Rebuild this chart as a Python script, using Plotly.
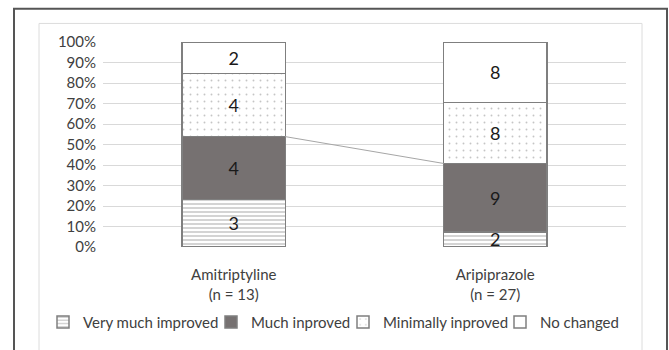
import plotly.graph_objects as go

# Response counts per drug, stacked as share of each group
drugs = ["Amitriptyline", "Aripiprazole"]
group_sizes = [13, 27]
categories = ["Very much improved", "Much inproved", "Minimally inproved", "No changed"]
counts = {
    "Very much improved": [3, 2],
    "Much inproved": [4, 9],
    "Minimally inproved": [4, 8],
    "No changed": [2, 8],
}
tick_labels = [f"{d}<br>(n = {n})" for d, n in zip(drugs, group_sizes)]
y_ticks = list(range(0, 101, 10))
y_tick_labels = [f"{v}%" for v in y_ticks]

x_pos = list(range(len(drugs)))
bar_width = 0.394
edge = "#7f7f7f"
font_family = "Lato, Open Sans, sans-serif"

styles = {
    "Very much improved": dict(color="white", pattern=dict(shape="-", size=4, solidity=0.33, fgcolor="#7a7a7a", bgcolor="white")),
    "Much inproved": dict(color="#767171"),
    "Minimally inproved": dict(color="white", pattern=dict(shape=".", size=7, solidity=0.06, fgcolor="#8c8c8c", bgcolor="white")),
    "No changed": dict(color="white"),
}

L, R, T, B = 103, 43, 42, 98
W, H = 669, 350
pw, ph = W - L - R, H - T - B

def px_x(p):
    return (p - L) / pw

def px_y(p):
    return (H - B - p) / ph

# one legend box per entry so the entries sit close together on a single row
legend_ids = ["legend", "legend2", "legend3", "legend4"]
legend_left_px = [43, 211, 343, 500]

fig = go.Figure()
for cat, lid in zip(categories, legend_ids):
    pct = [c / n * 100 for c, n in zip(counts[cat], group_sizes)]
    fig.add_trace(go.Bar(
        name=cat,
        x=x_pos,
        y=pct,
        width=bar_width,
        text=[str(c) for c in counts[cat]],
        textposition="inside",
        insidetextanchor="middle",
        textangle=0,
        textfont=dict(family=font_family, size=18, color="#1a1a1a"),
        marker=dict(line=dict(color=edge, width=1.5), **styles[cat]),
        legend=lid,
        hoverinfo="skip",
    ))

# Series line joining the top of the "Much inproved" segments
top_much = [(a + b) / n * 100 for a, b, n in zip(counts["Very much improved"], counts["Much inproved"], group_sizes)]
fig.add_trace(go.Scatter(
    x=[x_pos[0] + bar_width / 2, x_pos[1] - bar_width / 2],
    y=top_much,
    mode="lines",
    line=dict(color="#a6a6a6", width=1),
    showlegend=False,
    hoverinfo="skip",
))

shapes = [
    # outer frame
    dict(type="rect", xref="paper", yref="paper",
         x0=px_x(14), x1=px_x(667), y0=px_y(370), y1=px_y(8),
         line=dict(color="#555555", width=2), fillcolor="rgba(0,0,0,0)", layer="below"),
    # chart area frame
    dict(type="rect", xref="paper", yref="paper",
         x0=px_x(39), x1=px_x(642), y0=px_y(370), y1=px_y(23),
         line=dict(color="#dcdcdc", width=1), fillcolor="rgba(0,0,0,0)", layer="below"),
]

legend_layouts = {
    lid: dict(
        orientation="h",
        x=px_x(left), xanchor="left",
        y=px_y(329), yanchor="middle",
        font=dict(size=15, color="#404040"),
        itemwidth=30,
        bgcolor="rgba(0,0,0,0)",
    )
    for lid, left in zip(legend_ids, legend_left_px)
}

fig.update_layout(
    barmode="stack",
    width=W, height=H,
    margin=dict(l=L, r=R, t=T, b=B),
    paper_bgcolor="white",
    plot_bgcolor="white",
    font=dict(family=font_family, size=15, color="#404040"),
    shapes=shapes,
    uniformtext=dict(minsize=18, mode="show"),
    xaxis=dict(
        range=[-0.5, 1.5],
        tickvals=x_pos,
        ticktext=tick_labels,
        showgrid=False,
        zeroline=False,
        showline=False,
        ticks="",
        tickfont=dict(size=15, color="#404040"),
        ticklabelstandoff=17,
    ),
    yaxis=dict(
        range=[0, 100],
        tickvals=y_ticks,
        ticktext=y_tick_labels,
        showgrid=True,
        gridcolor="#d9d9d9",
        gridwidth=1,
        zeroline=False,
        showline=False,
        ticks="",
        tickfont=dict(size=15, color="#404040"),
        ticklabelstandoff=6,
    ),
    **legend_layouts,
)

fig.write_html("out.html")
